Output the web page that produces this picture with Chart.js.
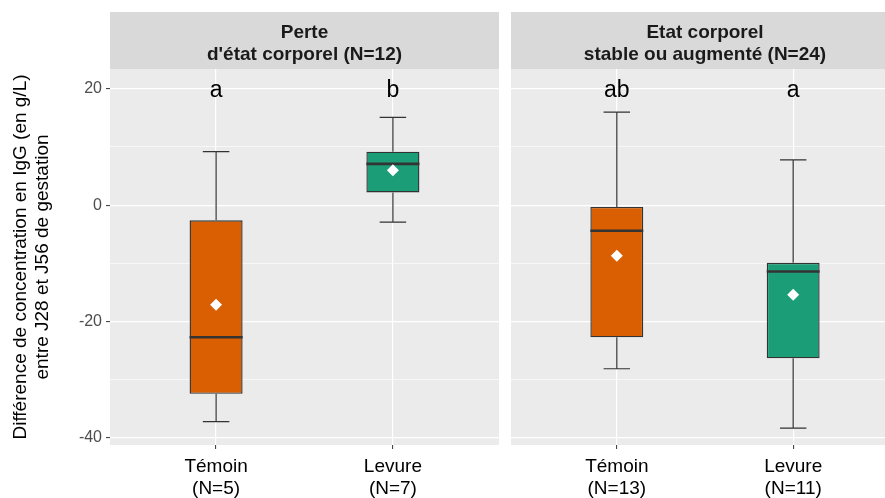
<!DOCTYPE html>
<html lang="fr">
<head>
<meta charset="UTF-8">
<title>Différence de concentration en IgG entre J28 et J56</title>
<style>
  html, body { margin: 0; padding: 0; background: #fff; overflow: hidden; width: 885px; height: 498px; }
  canvas { position: absolute; top: 0; }
</style>
</head>
<body>
<canvas id="facette1" width="505" height="498" style="left:0"></canvas>
<canvas id="facette2" width="400" height="498" style="left:505px"></canvas>

<script src="https://cdn.jsdelivr.net/npm/chart.js@4.4.0/dist/chart.umd.min.js"></script>
<script>
// ---- données ----
const groupes = ['Témoin', 'Levure'];
const couleurs = ['#D95F02', '#1B9E77'];
const titreAxeY = ['Différence de concentration en IgG (en g/L)', 'entre J28 et J56 de gestation'];

// facette 1 : perte d'état corporel
const bandeau1 = ['Perte', "d'état corporel (N=12)"];
const effectifs1 = ['(N=5)', '(N=7)'];
const basMoust1 = [-37.2, -2.9];
const q1_1 = [-32.4, 2.2];
const mediane1 = [-22.7, 7.1];
const q3_1 = [-2.6, 9.2];
const hautMoust1 = [9.2, 15.1];
const moyenne1 = [-17.1, 6.0];
const lettres1 = ['a', 'b'];

// facette 2 : état corporel stable ou augmenté
const bandeau2 = ['Etat corporel', 'stable ou augmenté (N=24)'];
const effectifs2 = ['(N=13)', '(N=11)'];
const basMoust2 = [-28.1, -38.3];
const q1_2 = [-22.7, -26.3];
const mediane2 = [-4.4, -11.4];
const q3_2 = [-0.3, -9.9];
const hautMoust2 = [16.0, 7.8];
const moyenne2 = [-8.7, -15.4];
const lettres2 = ['ab', 'a'];

const positionLettres = 20;

Chart.defaults.font.family = '"Liberation Sans", Arial, sans-serif';

// plugin : fond du panneau, bandeau, moustaches, médianes, lettres
const boites = {
  id: 'boites',
  beforeDraw(chart, args, o) {
    const { ctx, chartArea: a } = chart;
    ctx.save();
    ctx.fillStyle = '#ebebeb';
    ctx.fillRect(a.left, a.top, a.right - a.left, a.bottom - a.top);
    ctx.fillStyle = '#d9d9d9';
    ctx.fillRect(a.left, 12, a.right - a.left, a.top - 12);
    ctx.fillStyle = '#1a1a1a';
    ctx.font = 'bold 19px "Liberation Sans", Arial, sans-serif';
    ctx.textAlign = 'center';
    const cx = (a.left + a.right) / 2;
    o.bandeau.forEach((t, i) => ctx.fillText(t, cx, 38 + i * 21.5));
    ctx.restore();
  },
  beforeDatasetsDraw(chart, args, o) {
    const { ctx } = chart;
    const x = chart.scales.x, y = chart.scales.y;
    const demi = x.getPixelForValue(0.075) - x.getPixelForValue(0);
    ctx.save();
    ctx.strokeStyle = '#333';
    ctx.lineWidth = 1.2;
    o.bas.forEach((v, i) => {
      const px = x.getPixelForValue(i);
      ctx.beginPath();
      ctx.moveTo(px, y.getPixelForValue(o.q1[i]));
      ctx.lineTo(px, y.getPixelForValue(v));
      ctx.moveTo(px - demi, y.getPixelForValue(v));
      ctx.lineTo(px + demi, y.getPixelForValue(v));
      ctx.moveTo(px, y.getPixelForValue(o.q3[i]));
      ctx.lineTo(px, y.getPixelForValue(o.haut[i]));
      ctx.moveTo(px - demi, y.getPixelForValue(o.haut[i]));
      ctx.lineTo(px + demi, y.getPixelForValue(o.haut[i]));
      ctx.stroke();
    });
    ctx.restore();
  },
  afterDatasetDraw(chart, args, o) {
    if (args.index !== 0) return;
    const { ctx } = chart;
    const x = chart.scales.x, y = chart.scales.y;
    const demi = x.getPixelForValue(0.15) - x.getPixelForValue(0);
    ctx.save();
    ctx.strokeStyle = '#333';
    ctx.lineWidth = 2.6;
    o.mediane.forEach((v, i) => {
      const px = x.getPixelForValue(i);
      ctx.beginPath();
      ctx.moveTo(px - demi, y.getPixelForValue(v));
      ctx.lineTo(px + demi, y.getPixelForValue(v));
      ctx.stroke();
    });
    ctx.restore();
  },
  afterDatasetsDraw(chart, args, o) {
    const { ctx } = chart;
    const x = chart.scales.x, y = chart.scales.y;
    ctx.save();
    ctx.fillStyle = '#000';
    ctx.font = '23px "Liberation Sans", Arial, sans-serif';
    ctx.textAlign = 'center';
    o.lettres.forEach((t, i) => {
      ctx.fillText(t, x.getPixelForValue(i), y.getPixelForValue(positionLettres) + 8);
    });
    ctx.restore();
  }
};

function facette(id, f, axeGauche) {
  const yScale = {
    min: -41.2,
    max: 23.4,
    border: { display: false },
    afterFit: s => { s.width = axeGauche ? 110 : 0; },
    grid: {
      color: '#fff',
      lineWidth: c => (c.tick && c.tick.value % 20 === 0) ? 1.2 : 0.6,
      drawTicks: axeGauche,
      tickLength: 4,
      tickWidth: 1,
      tickColor: c => (c.tick && c.tick.value % 20 === 0) ? '#333' : 'rgba(0,0,0,0)'
    },
    ticks: {
      display: axeGauche,
      stepSize: 10,
      includeBounds: false,
      color: '#4d4d4d',
      font: { size: 16 },
      padding: 4,
      callback: v => v % 20 === 0 ? v : ''
    },
    title: {
      display: axeGauche,
      text: titreAxeY,
      color: '#000',
      font: { size: 19, lineHeight: 1.15 },
      padding: { top: 10, bottom: 0 }
    }
  };

  return new Chart(document.getElementById(id), {
    type: 'bar',
    data: {
      datasets: [{
        type: 'bar',
        data: groupes.map((g, i) => ({ x: i, y: [f.q1[i], f.q3[i]] })),
        backgroundColor: couleurs,
        borderColor: '#333',
        borderWidth: 1.4,
        borderSkipped: false,
        categoryPercentage: 1,
        barPercentage: 0.3,
        order: 1
      }, {
        type: 'scatter',
        data: groupes.map((g, i) => ({ x: i, y: f.moyenne[i] })),
        pointStyle: 'rectRot',
        pointRadius: 6,
        backgroundColor: '#fff',
        borderWidth: 0,
        order: 0
      }]
    },
    options: {
      responsive: false,
      animation: false,
      events: [],
      layout: { padding: { top: 69, bottom: 0, left: axeGauche ? 0 : 5, right: axeGauche ? 4 : 6 } },
      plugins: {
        legend: { display: false },
        tooltip: { enabled: false },
        boites: f
      },
      scales: {
        x: {
          type: 'linear',
          min: -0.6,
          max: 1.6,
          offset: false,
          border: { display: false },
          afterBuildTicks: s => { s.ticks = groupes.map((g, i) => ({ value: i })); },
          afterFit: s => { s.height = 53; },
          grid: { offset: false, color: '#fff', lineWidth: 1.2, tickLength: 4, tickColor: '#333', tickWidth: 1 },
          ticks: {
            color: '#000',
            font: { size: 19, lineHeight: 1.2 },
            padding: 6,
            maxRotation: 0,
            autoSkip: false,
            callback: v => [groupes[v], f.effectifs[v]]
          }
        },
        y: yScale
      }
    },
    plugins: [boites]
  });
}

facette('facette1', {
  bandeau: bandeau1, effectifs: effectifs1, bas: basMoust1, q1: q1_1, mediane: mediane1,
  q3: q3_1, haut: hautMoust1, moyenne: moyenne1, lettres: lettres1
}, true);

facette('facette2', {
  bandeau: bandeau2, effectifs: effectifs2, bas: basMoust2, q1: q1_2, mediane: mediane2,
  q3: q3_2, haut: hautMoust2, moyenne: moyenne2, lettres: lettres2
}, false);
</script>
</body>
</html>
